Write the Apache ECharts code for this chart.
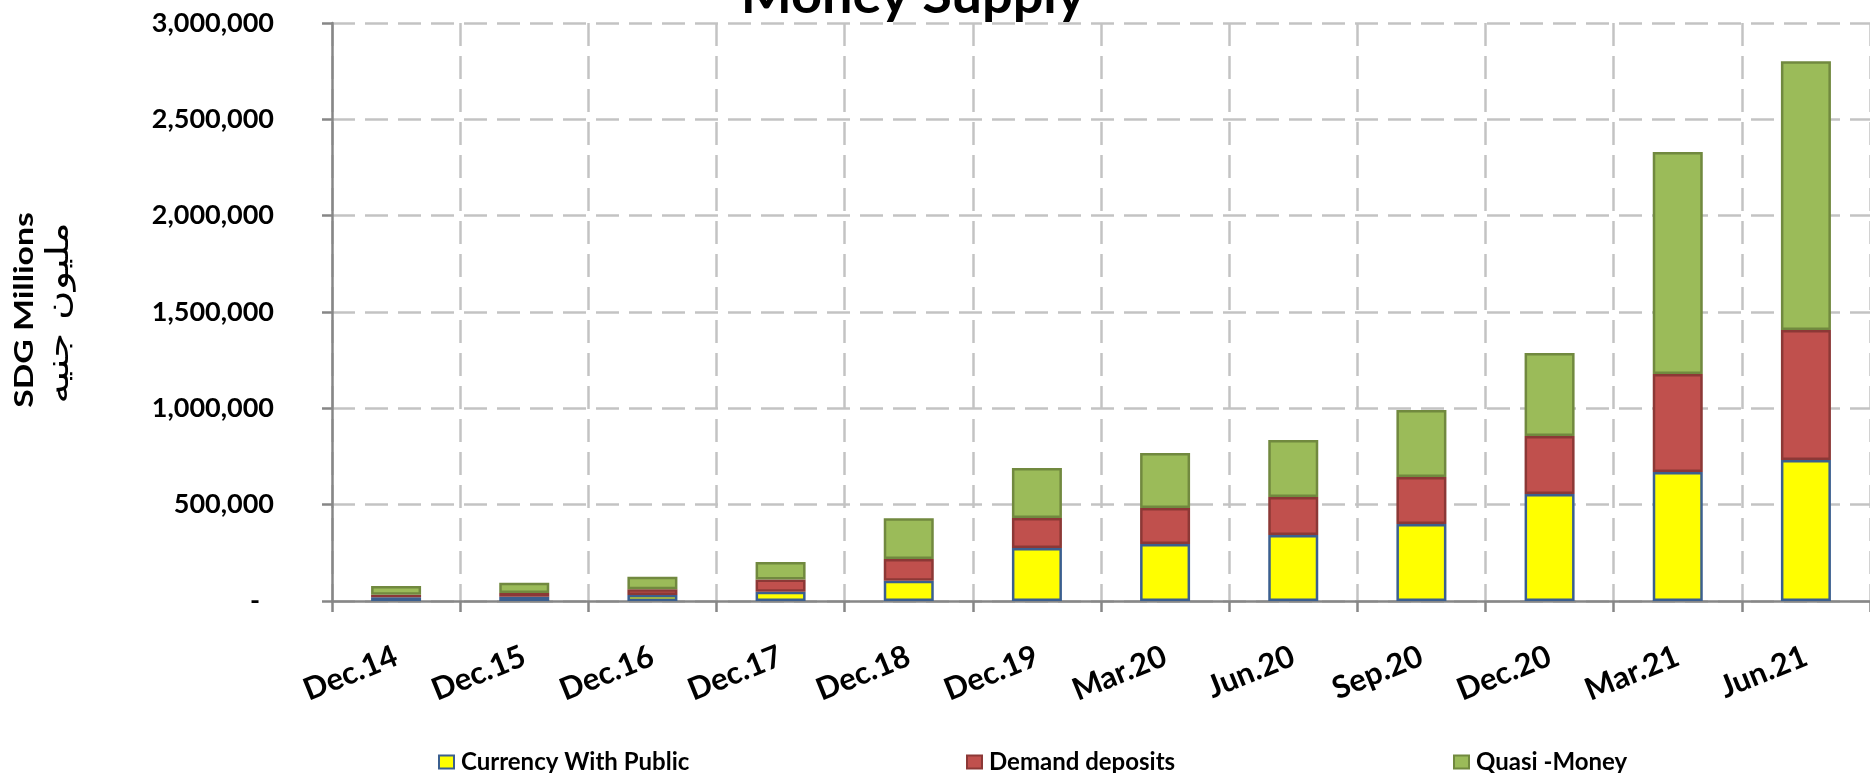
<!DOCTYPE html>
<html>
<head>
<meta charset="utf-8">
<script src="https://cdn.jsdelivr.net/npm/echarts@6/dist/echarts.min.js"></script>
<style>
html,body{margin:0;padding:0;background:#fff;}
#c{width:1870px;height:773px;}
</style>
</head>
<body>
<div id="c"></div>
<script>
// Data (SDG millions)
const categories = ['Dec.14','Dec.15','Dec.16','Dec.17','Dec.18','Dec.19','Mar.20','Jun.20','Sep.20','Dec.20','Mar.21','Jun.21'];
const currencyWithPublic = [20000, 22000, 31000, 48000, 105000, 275000, 296000, 342000, 400000, 555000, 669000, 732000];
const demandDeposits     = [13000, 20000, 30000, 64000, 113000, 156000, 187000, 198000, 243000, 301000, 509000, 674000];
const quasiMoney         = [45000, 53000, 65000, 90000, 211000, 259000, 285000, 295000, 348000, 431000, 1152000, 1396000];
const seriesNames = ['Currency With Public', 'Demand deposits', 'Quasi -Money'];
const yTicks = [0, 500000, 1000000, 1500000, 2000000, 2500000, 3000000];

const FONT = 'Lato';
const chart = echarts.init(document.getElementById('c'));
const gridDash = {type:[23,10], color:'#c3c3c3', width:2.5};
const axisGray = '#878787';

function legendAt(name, left){
  return {
    data:[name], left:left, top:750, padding:0, icon:'rect', itemWidth:15, itemHeight:13,
    textStyle:{fontFamily:FONT, fontWeight:'bold', fontSize:24, color:'#000', padding:[0,0,0,2]}
  };
}

chart.setOption({
  animation:false,
  backgroundColor:'#fff',
  grid:{left:332, right:-7, top:23, bottom:172, containLabel:false},
  legend:[legendAt(seriesNames[0],438), legendAt(seriesNames[1],966), legendAt(seriesNames[2],1453)],
  graphic:[
    {type:'text', x:913, y:-4, scaleX:1.04, style:{text:'Money Supply', font:'bold 52px Lato', fill:'#000', align:'center', verticalAlign:'middle', textAlign:'center', textVerticalAlign:'middle'}},
    {type:'text', x:24, y:310, rotation:Math.PI/2, scaleX:1.25, style:{text:'SDG Millions', font:'bold 27px Lato', fill:'#000', align:'center', verticalAlign:'middle', textAlign:'center', textVerticalAlign:'middle'}},
    {type:'text', x:60, y:313, rotation:Math.PI/2, scaleX:1.3, style:{text:'مليون جنيه', font:'31px "DejaVu Sans"', fill:'#000', align:'center', verticalAlign:'middle', textAlign:'center', textVerticalAlign:'middle'}}
  ],
  xAxis:{
    type:'category', data:categories, boundaryGap:true,
    axisLine:{show:true, lineStyle:{color:axisGray, width:2.5}},
    axisTick:{show:true, length:11, lineStyle:{color:axisGray, width:2.5}},
    splitLine:{show:true, lineStyle:gridDash},
    axisLabel:{interval:0, rotate:22, margin:54, fontFamily:FONT, fontWeight:'bold', fontSize:31, color:'#000'}
  },
  yAxis:{
    type:'value', min:0, max:3000000, interval:500000,
    axisLine:{show:true, lineStyle:{color:axisGray, width:2.5}},
    axisTick:{show:true, length:10, lineStyle:{color:axisGray, width:2.5}},
    splitLine:{show:true, lineStyle:gridDash},
    axisLabel:{
      margin:58, fontFamily:FONT, fontWeight:'bold', fontSize:27, color:'#000',
      formatter:function(v){ return v===0 ? '{z|-}' : v.toLocaleString('en-US'); },
      rich:{z:{fontFamily:FONT, fontWeight:'bold', fontSize:27, color:'#000', padding:[0,14,0,0]}}
    }
  },
  series:[
    {name:seriesNames[0], type:'bar', stack:'m', barWidth:50, data:currencyWithPublic,
     itemStyle:{color:'#ffff00', borderColor:'#3b5f8f', borderWidth:2.5}},
    {name:seriesNames[1], type:'bar', stack:'m', barWidth:50, data:demandDeposits,
     itemStyle:{color:'#c0504d', borderColor:'#8c3836', borderWidth:2.5}},
    {name:seriesNames[2], type:'bar', stack:'m', barWidth:50, data:quasiMoney,
     itemStyle:{color:'#9bbb59', borderColor:'#71893f', borderWidth:2.5}}
  ]
});
</script>
</body>
</html>
